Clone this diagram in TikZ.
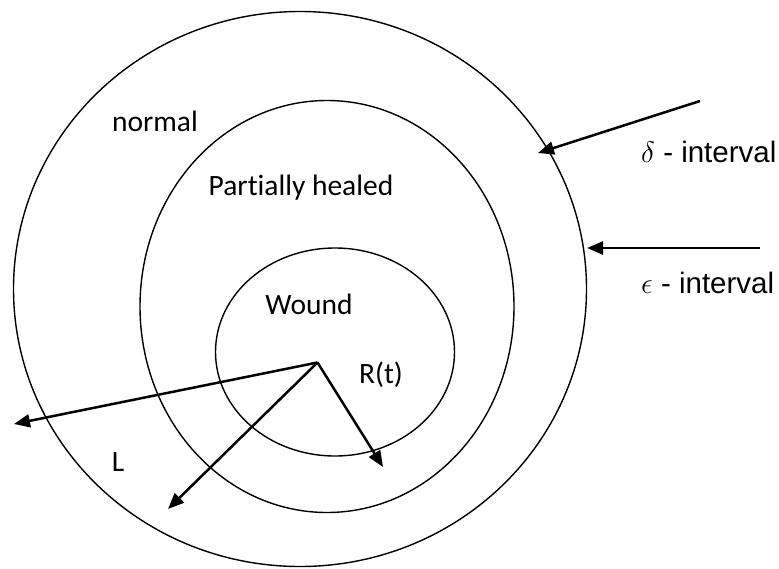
\RequirePackage{fix-cm}
\documentclass[tikz,border=0pt]{standalone}
\usepackage{fontspec}
\setmainfont{Liberation Sans}
\newfontfamily\carlitofont[Ligatures=NoCommon]{Carlito}
\usetikzlibrary{shapes.geometric,arrows.meta}
\tikzset{
  ring/.style={draw=black, line width=1.4pt, ellipse, inner sep=0pt},
  ptr/.style={draw=black, line width=2.5pt, -{Triangle[length=16pt,width=13pt]}},
  lbl/.style={font=\carlitofont\fontsize{29.5}{34}\selectfont, inner sep=0pt},
  ilbl/.style={font=\fontsize{29.5}{34}\selectfont, inner sep=0pt, anchor=west}
}
\begin{document}
\begin{tikzpicture}[x=1pt,y=-1pt]
\useasboundingbox (0,0) rectangle (779,568);
\node[ring, minimum width=573pt, minimum height=555pt] (outer) at (300,289) {};
\node[ring, minimum width=374pt, minimum height=412pt] (middle) at (327,306.5) {};
\node[ring, minimum width=239pt, minimum height=208pt] (inner) at (335,352) {};
\node[lbl] (normal) at (155,121) {normal};
\node[lbl] (partial) at (301,188) {Partially healed};
\node[lbl] (wound) at (309,304) {Wound};
\node[lbl] (rt) at (381,375) {R(t)};
\node[lbl] (L) at (118,462) {L};
\node[ilbl] (delta) at (641,152) {$\delta$ - interval};
\node[ilbl] (eps) at (641,283) {$\epsilon$ - interval};
\coordinate (c) at (317.5,362.5);
\coordinate (ltip) at (14,424);
\coordinate (dtip) at (168,509);
\coordinate (rtip) at (383,467);
\coordinate (dstart) at (700,101);
\coordinate (dend) at (538,153);
\coordinate (estart) at (760,248);
\coordinate (eend) at (587,248);
\draw[ptr] (c) -- (ltip);
\draw[ptr] (c) -- (dtip);
\draw[ptr] (c) -- (rtip);
\draw[ptr] (dstart) -- (dend);
\draw[ptr] (estart) -- (eend);
\end{tikzpicture}
\end{document}
